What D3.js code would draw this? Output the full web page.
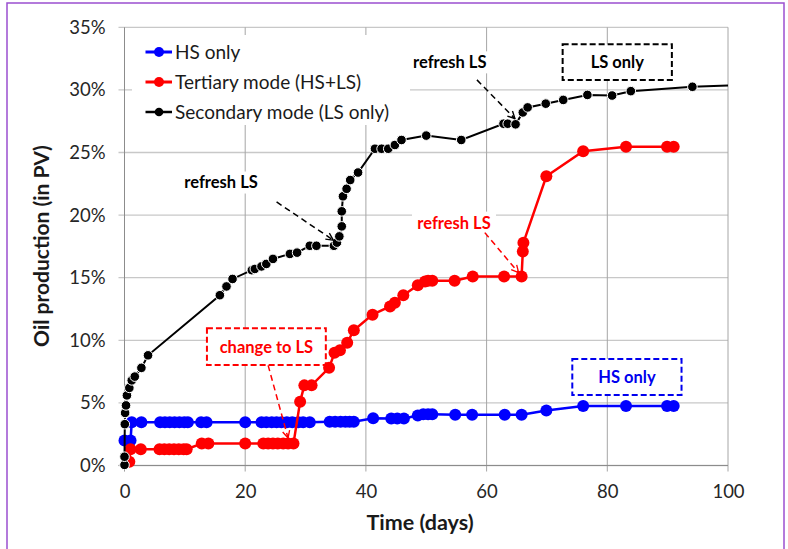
<!DOCTYPE html>
<html>
<head>
<meta charset="utf-8">
<script src="https://cdn.jsdelivr.net/npm/d3@7"></script>
<style>
  body { margin: 0; background: #fff; }
  svg { font-family: Lato, "Open Sans", sans-serif; }
</style>
</head>
<body>
<div id="chart"></div>
<script>
// Oil production vs time, three injection modes

const xTicks = [0, 20, 40, 60, 80, 100];
const yTicks = [0, 5, 10, 15, 20, 25, 30, 35];

const seriesNames = ['HS only', 'Tertiary mode (HS+LS)', 'Secondary mode (LS only)'];

const hsDays = [0, 1.0, 1.2, 2.8, 5.9, 6.7, 7.5, 8.3, 9.1, 9.9, 10.5, 12.7, 13.6, 20.0,
  22.7, 23.5, 24.4, 25.2, 26.0, 26.9, 27.8, 28.8, 29.6, 30.7, 34.0, 34.9, 35.8, 36.6,
  37.3, 38.0, 41.2, 44.2, 45.2, 46.3, 48.6, 49.5, 50.3, 51.0, 54.8, 57.6, 63.0, 65.8,
  69.9, 76.0, 83.1, 89.9, 91.0];
const hsOil = [2.0, 2.0, 3.45, 3.45, 3.45, 3.45, 3.45, 3.45, 3.45, 3.45, 3.45, 3.45, 3.45, 3.45,
  3.45, 3.45, 3.45, 3.45, 3.45, 3.45, 3.45, 3.45, 3.45, 3.45, 3.5, 3.5, 3.5, 3.5,
  3.5, 3.5, 3.77, 3.75, 3.75, 3.75, 4.0, 4.1, 4.1, 4.1, 4.05, 4.05, 4.05, 4.05,
  4.4, 4.75, 4.75, 4.75, 4.75];

const terDays = [0.8, 1.0, 2.7, 5.8, 6.6, 7.4, 8.2, 9.0, 9.8, 10.3, 12.8, 13.9, 20.0,
  23.0, 23.8, 24.6, 25.4, 26.3, 27.1, 28.0, 29.1, 29.8, 31.0, 33.9, 34.8, 35.7, 36.9,
  38.0, 41.1, 44.0, 44.8, 46.2, 48.6, 49.8, 50.3, 51.0, 54.7, 57.7, 62.9, 65.8, 66.0,
  66.1, 69.9, 76.0, 83.1, 89.9, 91.0];
const terOil = [0.3, 1.3, 1.3, 1.3, 1.3, 1.3, 1.3, 1.3, 1.3, 1.3, 1.75, 1.75, 1.75,
  1.75, 1.75, 1.75, 1.75, 1.75, 1.75, 1.75, 5.1, 6.4, 6.4, 7.8, 9.0, 9.2, 9.8,
  10.8, 12.05, 12.7, 13.0, 13.6, 14.4, 14.7, 14.75, 14.75, 14.75, 15.1, 15.1, 15.1, 17.1,
  17.8, 23.1, 25.1, 25.45, 25.45, 25.45];

// last point (day 100) is the line end, drawn without a marker
const secDays = [0, 0, 0.05, 0.1, 0.25, 0.4, 0.8, 1.2, 1.7, 2.8, 3.9, 15.8, 16.9, 17.9,
  21.1, 21.6, 22.7, 23.5, 24.6, 27.4, 28.6, 30.7, 31.8, 34.7, 35.2, 35.6, 36.0, 36.0,
  36.2, 36.8, 37.4, 38.7, 41.5, 42.6, 43.7, 44.8, 45.9, 50.0, 55.8, 62.8, 63.5, 64.8,
  66.0, 66.8, 69.8, 72.7, 76.7, 80.8, 83.9, 94.1, 100];
const secOil = [0.05, 0.7, 3.3, 4.2, 4.8, 5.6, 6.2, 6.8, 7.1, 7.8, 8.8, 13.6, 14.3, 14.9,
  15.6, 15.7, 15.9, 16.1, 16.5, 16.9, 17.0, 17.55, 17.55, 17.55, 17.8, 18.3, 19.1, 20.3,
  21.5, 22.1, 22.8, 23.4, 25.3, 25.3, 25.3, 25.6, 26.0, 26.35, 26.0, 27.3, 27.3, 27.25,
  28.2, 28.6, 28.9, 29.2, 29.6, 29.55, 29.9, 30.25, 30.35];

const width = 788, height = 549;
const svg = d3.select('#chart').append('svg')
  .attr('width', width)
  .attr('height', height);

// purple frame
svg.append('rect')
  .attr('x', 7).attr('y', 3)
  .attr('width', 777).attr('height', 560)
  .attr('fill', 'none')
  .attr('stroke', '#9b4fd0')
  .attr('stroke-width', 1.5);

const x = d3.scaleLinear().domain([0, 100]).range([124.5, 728]);
const y = d3.scaleLinear().domain([0, 35]).range([465.5, 27.3]);

// gridlines
svg.append('g')
  .selectAll('line')
  .data(yTicks)
  .join('line')
  .attr('x1', x(0) - 6).attr('x2', x(100))
  .attr('y1', d => y(d)).attr('y2', d => y(d))
  .attr('stroke', '#c8c8c8')
  .attr('stroke-width', 1.3);

svg.append('g')
  .selectAll('line')
  .data(xTicks)
  .join('line')
  .attr('x1', d => x(d)).attr('x2', d => x(d))
  .attr('y1', y(35)).attr('y2', y(0) + 6)
  .attr('stroke', d => (d === 0 ? '#8c8c8c' : '#a6a6a6'))
  .attr('stroke-width', 1);

// axes labels
const yAxis = d3.axisLeft(y).tickValues(yTicks).tickFormat(d => d + '%').tickSize(0).tickPadding(19);
svg.append('g')
  .attr('transform', `translate(${x(0)},0)`)
  .call(yAxis)
  .call(g => g.select('.domain').remove())
  .selectAll('text')
  .attr('font-size', 18.5)
  .attr('font-family', 'Lato, sans-serif')
  .attr('fill', '#262626');

const xAxis = d3.axisBottom(x).tickValues(xTicks).tickSize(0).tickPadding(19);
svg.append('g')
  .attr('transform', `translate(0,${y(0)})`)
  .call(xAxis)
  .call(g => g.select('.domain').remove())
  .selectAll('text')
  .attr('font-size', 18.5)
  .attr('font-family', 'Lato, sans-serif')
  .attr('fill', '#262626');

svg.append('line')
  .attr('x1', x(0) - 6).attr('x2', x(100))
  .attr('y1', y(0)).attr('y2', y(0))
  .attr('stroke', '#8c8c8c');

svg.append('text')
  .attr('x', 420).attr('y', 530)
  .attr('text-anchor', 'middle')
  .attr('font-size', 21.5).attr('font-weight', 'bold')
  .attr('fill', '#1a1a1a')
  .text('Time (days)');

svg.append('text')
  .attr('transform', 'translate(49,246) rotate(-90)')
  .attr('text-anchor', 'middle')
  .attr('font-size', 21).attr('font-weight', 'bold')
  .attr('fill', '#1a1a1a')
  .text('Oil production (in PV)');

// legend background hides gridlines
svg.append('rect')
  .attr('x', 132).attr('y', 35)
  .attr('width', 278).attr('height', 90)
  .attr('fill', '#fff');

// annotation boxes (white fill)
const boxes = [
  { text: 'LS only', x0: 72.6, x1: 90.7, y0: 33.65, y1: 30.8, color: '#000' },
  { text: 'HS only', x0: 74.2, x1: 92.3, y0: 8.5, y1: 5.63, color: '#0000ee' },
  { text: 'change to LS', x0: 13.66, x1: 33.36, y0: 10.97, y1: 8.02, color: '#ff0000' }
];

const labels = [
  { text: 'refresh LS', d: 16.0, v: 22.6, color: '#000' },
  { text: 'refresh LS', d: 53.9, v: 32.2, color: '#000' },
  { text: 'refresh LS', d: 54.6, v: 19.4, color: '#ff0000' }
];

const arrows = [
  { d0: 25.2, v0: 21.05, d1: 34.6, v1: 18.0, color: '#000' },
  { d0: 58.4, v0: 30.8, d1: 64.7, v1: 27.7, color: '#000' },
  { d0: 59.7, v0: 18.6, d1: 65.3, v1: 15.4, color: '#ff0000' },
  { d0: 23.8, v0: 8.0, d1: 27.1, v1: 2.2, color: '#ff0000' }
];

const labelBg = svg.append('g');
labels.forEach(l => {
  labelBg.append('rect')
    .attr('x', x(l.d) - 42).attr('y', y(l.v) - 11)
    .attr('width', 84).attr('height', 22)
    .attr('fill', '#fff');
});

boxes.forEach(b => {
  svg.append('rect')
    .attr('x', x(b.x0)).attr('y', y(b.y0))
    .attr('width', x(b.x1) - x(b.x0)).attr('height', y(b.y1) - y(b.y0))
    .attr('fill', '#fff')
    .attr('stroke', b.color)
    .attr('stroke-width', 2)
    .attr('stroke-dasharray', '6,3');
  svg.append('text')
    .attr('x', (x(b.x0) + x(b.x1)) / 2)
    .attr('y', (y(b.y0) + y(b.y1)) / 2)
    .attr('dy', '0.36em')
    .attr('text-anchor', 'middle')
    .attr('font-size', 16.5).attr('font-weight', 'bold')
    .attr('fill', b.color)
    .text(b.text);
});

// series
const series = [
  { name: seriesNames[0], xs: hsDays, ys: hsOil, color: '#0000ff', r: 6, lw: 2.5, outline: 'none' },
  { name: seriesNames[1], xs: terDays, ys: terOil, color: '#ff0000', r: 6, lw: 2.5, outline: 'none' },
  { name: seriesNames[2], xs: secDays, ys: secOil, color: '#000000', r: 4.8, lw: 2, outline: '#fff', skipLast: true }
];

const line = d3.line().x(d => x(d[0])).y(d => y(d[1]));

series.forEach(s => {
  const pts = s.xs.map((d, i) => [d, s.ys[i]]);
  const g = svg.append('g');
  g.append('path')
    .datum(pts)
    .attr('d', line)
    .attr('fill', 'none')
    .attr('stroke', s.color)
    .attr('stroke-width', s.lw);
  g.selectAll('circle')
    .data(s.skipLast ? pts.slice(0, -1) : pts)
    .join('circle')
    .attr('cx', d => x(d[0]))
    .attr('cy', d => y(d[1]))
    .attr('r', s.r)
    .attr('fill', s.color)
    .attr('stroke', s.outline)
    .attr('stroke-width', 1);
});

// labels and arrows
labels.forEach(l => {
  svg.append('text')
    .attr('x', x(l.d)).attr('y', y(l.v))
    .attr('dy', '0.36em')
    .attr('text-anchor', 'middle')
    .attr('font-size', 16.5).attr('font-weight', 'bold')
    .attr('fill', l.color)
    .text(l.text);
});

const defs = svg.append('defs');
['#000', '#ff0000'].forEach((c, i) => {
  defs.append('marker')
    .attr('id', 'arr' + i)
    .attr('viewBox', '0 0 10 10')
    .attr('refX', 9).attr('refY', 5)
    .attr('markerWidth', 9).attr('markerHeight', 9)
    .attr('markerUnits', 'userSpaceOnUse')
    .attr('orient', 'auto')
    .append('path')
    .attr('d', 'M1,1 L9,5 L1,9')
    .attr('fill', 'none')
    .attr('stroke', c)
    .attr('stroke-width', 1.5);
});

arrows.forEach(a => {
  svg.append('line')
    .attr('x1', x(a.d0)).attr('y1', y(a.v0))
    .attr('x2', x(a.d1)).attr('y2', y(a.v1))
    .attr('stroke', a.color)
    .attr('stroke-width', 1.5)
    .attr('stroke-dasharray', '6,4')
    .attr('marker-end', `url(#arr${a.color === '#000' ? 0 : 1})`);
});

// legend
const legend = svg.append('g');
series.forEach((s, i) => {
  const ly = 52 + i * 30;
  legend.append('line')
    .attr('x1', 145.5).attr('x2', 172)
    .attr('y1', ly).attr('y2', ly)
    .attr('stroke', s.color)
    .attr('stroke-width', s.lw + 0.5);
  legend.append('circle')
    .attr('cx', 159).attr('cy', ly)
    .attr('r', i === 2 ? 4.3 : 5)
    .attr('fill', s.color);
  legend.append('text')
    .attr('x', 175).attr('y', ly)
    .attr('dy', '0.36em')
    .attr('font-size', 19)
    .attr('fill', '#1a1a1a')
    .text(s.name);
});
</script>
</body>
</html>
